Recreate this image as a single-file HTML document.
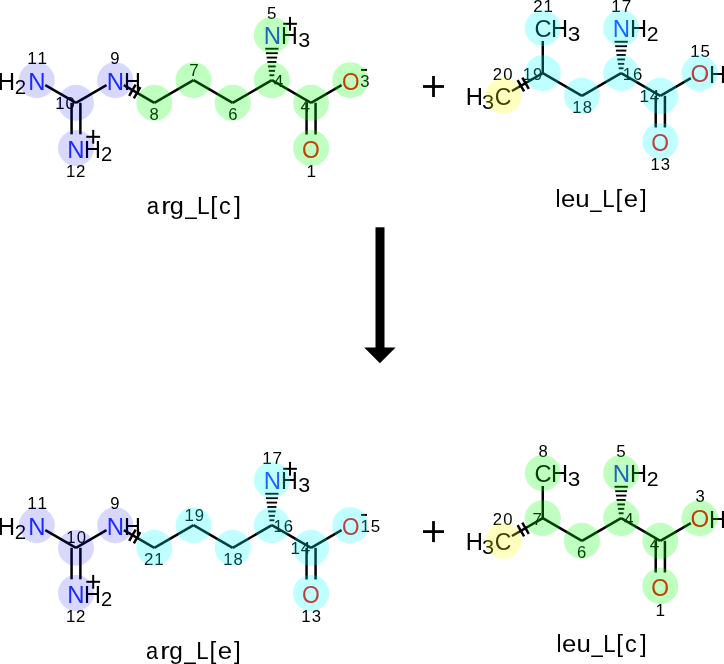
<!DOCTYPE html>
<html><head><meta charset="utf-8"><style>
html,body{margin:0;padding:0;background:#fff;}
svg{display:block;font-family:"Liberation Sans", sans-serif;will-change:transform;font-kerning:none;font-feature-settings:"kern" 0;}

</style></head><body>
<svg width="724" height="664" viewBox="0 0 724 664">
<rect width="724" height="664" fill="#fff"/>
<g class="t"><text transform="translate(-2.27 89.70) scale(0.988 1)" font-size="24.27" fill="#000">H</text>
<text transform="translate(14.77 93.60) scale(0.983 1)" font-size="20.77" fill="#000">2</text>
<text transform="translate(28.23 89.70) scale(0.988 1)" font-size="24.27" fill="#2133ff">N</text>
<text transform="translate(106.73 89.70) scale(0.988 1)" font-size="24.27" fill="#2133ff">N</text>
<text transform="translate(123.88 89.70) scale(0.966 1)" font-size="24.27" fill="#000">H</text>
<text transform="translate(67.13 158.00) scale(0.988 1)" font-size="24.27" fill="#2133ff">N</text>
<text transform="translate(84.08 158.00) scale(0.966 1)" font-size="24.27" fill="#000">H</text>
<text transform="translate(100.98 160.60) scale(0.986 1)" font-size="20.48" fill="#000">2</text>
<text x="263.83" y="43.70" font-size="23.98" fill="#2133ff">N</text>
<text transform="translate(281.09 43.70) scale(0.970 1)" font-size="23.98" fill="#000">H</text>
<text transform="translate(298.18 47.00) scale(1.073 1)" font-size="20.06" fill="#000">3</text>
<text transform="translate(342.03 89.57) scale(0.956 1)" font-size="23.59" fill="#ff0000">O</text>
<text transform="translate(302.12 157.57) scale(0.963 1)" font-size="23.73" fill="#ff0000">O</text>
<text x="27.17 37.42" y="63.80" font-size="17.15" fill="#000">11</text>
<text x="110.37" y="63.64" font-size="16.67" fill="#000">9</text>
<text x="55.18 65.51" y="108.64" font-size="16.67" fill="#000">10</text>
<text x="65.91 76.03" y="177.00" font-size="16.90" fill="#000">12</text>
<text x="149.47" y="119.74" font-size="16.67" fill="#000">8</text>
<text x="189.22" y="75.60" font-size="17.15" fill="#000">7</text>
<text x="228.16" y="119.74" font-size="16.67" fill="#000">6</text>
<text x="273.76" y="86.60" font-size="17.15" fill="#000">4</text>
<text x="267.11" y="18.53" font-size="16.91" fill="#000">5</text>
<text x="300.56" y="111.80" font-size="17.15" fill="#000">4</text>
<text x="360.18" y="86.64" font-size="16.67" fill="#000">3</text>
<text x="306.50" y="177.00" font-size="17.15" fill="#000">1</text>
<text transform="translate(-2.27 534.70) scale(0.988 1)" font-size="24.27" fill="#000">H</text>
<text transform="translate(14.77 538.60) scale(0.983 1)" font-size="20.77" fill="#000">2</text>
<text transform="translate(28.23 534.70) scale(0.988 1)" font-size="24.27" fill="#2133ff">N</text>
<text transform="translate(106.73 534.70) scale(0.988 1)" font-size="24.27" fill="#2133ff">N</text>
<text transform="translate(123.88 534.70) scale(0.966 1)" font-size="24.27" fill="#000">H</text>
<text transform="translate(67.13 603.00) scale(0.988 1)" font-size="24.27" fill="#2133ff">N</text>
<text transform="translate(84.08 603.00) scale(0.966 1)" font-size="24.27" fill="#000">H</text>
<text transform="translate(100.98 605.60) scale(0.986 1)" font-size="20.48" fill="#000">2</text>
<text x="263.83" y="488.70" font-size="23.98" fill="#2133ff">N</text>
<text transform="translate(281.09 488.70) scale(0.970 1)" font-size="23.98" fill="#000">H</text>
<text transform="translate(298.18 492.00) scale(1.073 1)" font-size="20.06" fill="#000">3</text>
<text transform="translate(342.03 534.57) scale(0.956 1)" font-size="23.59" fill="#ff0000">O</text>
<text transform="translate(302.12 602.57) scale(0.963 1)" font-size="23.73" fill="#ff0000">O</text>
<text x="27.17 37.42" y="508.80" font-size="17.15" fill="#000">11</text>
<text x="110.37" y="508.64" font-size="16.67" fill="#000">9</text>
<text x="66.36 76.68" y="543.44" font-size="16.67" fill="#000">10</text>
<text x="65.91 76.03" y="622.00" font-size="16.90" fill="#000">12</text>
<text x="143.97 154.34" y="565.00" font-size="16.90" fill="#000">21</text>
<text x="184.39 194.66" y="520.94" font-size="16.67" fill="#000">19</text>
<text x="223.27 233.60" y="564.69" font-size="16.67" fill="#000">18</text>
<text x="273.53 283.86" y="531.64" font-size="16.67" fill="#000">16</text>
<text x="262.22 272.52" y="463.70" font-size="17.15" fill="#000">17</text>
<text x="290.39 300.72" y="553.80" font-size="17.15" fill="#000">14</text>
<text x="360.46 370.73" y="531.63" font-size="16.91" fill="#000">15</text>
<text x="301.32 311.66" y="621.64" font-size="16.67" fill="#000">13</text>
<text transform="translate(465.85 104.70) scale(0.975 1)" font-size="24.42" fill="#000">H</text>
<text transform="translate(481.97 109.20) scale(1.068 1)" font-size="20.34" fill="#000">3</text>
<text transform="translate(494.63 104.76) scale(0.938 1)" font-size="24.58" fill="#000">C</text>
<text transform="translate(534.40 36.77) scale(0.992 1)" font-size="23.87" fill="#000">C</text>
<text transform="translate(551.06 36.90) scale(0.979 1)" font-size="24.13" fill="#000">H</text>
<text transform="translate(567.74 40.80) scale(1.125 1)" font-size="20.06" fill="#000">3</text>
<text transform="translate(612.63 36.90) scale(0.994 1)" font-size="24.13" fill="#2133ff">N</text>
<text transform="translate(630.06 36.90) scale(0.979 1)" font-size="24.13" fill="#000">H</text>
<text transform="translate(646.63 40.90) scale(1.040 1)" font-size="20.48" fill="#000">2</text>
<text transform="translate(690.46 82.37) scale(1.025 1)" font-size="23.45" fill="#ff0000">O</text>
<text transform="translate(709.06 82.60) scale(0.979 1)" font-size="24.13" fill="#000">H</text>
<text transform="translate(651.32 150.77) scale(0.975 1)" font-size="23.45" fill="#ff0000">O</text>
<text x="492.82 503.28" y="79.64" font-size="16.67" fill="#000">20</text>
<text x="522.63 532.91" y="79.64" font-size="16.67" fill="#000">19</text>
<text x="533.17 543.54" y="11.70" font-size="16.90" fill="#000">21</text>
<text x="572.32 582.65" y="112.54" font-size="16.67" fill="#000">18</text>
<text x="622.73 633.06" y="79.54" font-size="16.67" fill="#000">16</text>
<text x="611.37 621.67" y="11.70" font-size="17.15" fill="#000">17</text>
<text x="639.39 649.72" y="101.90" font-size="17.15" fill="#000">14</text>
<text x="690.31 700.57" y="56.63" font-size="16.91" fill="#000">15</text>
<text x="650.42 660.76" y="169.64" font-size="16.67" fill="#000">13</text>
<text transform="translate(465.85 549.70) scale(0.975 1)" font-size="24.42" fill="#000">H</text>
<text transform="translate(481.97 554.20) scale(1.068 1)" font-size="20.34" fill="#000">3</text>
<text transform="translate(494.63 549.76) scale(0.938 1)" font-size="24.58" fill="#000">C</text>
<text transform="translate(534.40 481.77) scale(0.992 1)" font-size="23.87" fill="#000">C</text>
<text transform="translate(551.06 481.90) scale(0.979 1)" font-size="24.13" fill="#000">H</text>
<text transform="translate(567.74 485.80) scale(1.125 1)" font-size="20.06" fill="#000">3</text>
<text transform="translate(612.63 481.90) scale(0.994 1)" font-size="24.13" fill="#2133ff">N</text>
<text transform="translate(630.06 481.90) scale(0.979 1)" font-size="24.13" fill="#000">H</text>
<text transform="translate(646.63 485.90) scale(1.040 1)" font-size="20.48" fill="#000">2</text>
<text transform="translate(690.46 527.37) scale(1.025 1)" font-size="23.45" fill="#ff0000">O</text>
<text transform="translate(709.06 527.60) scale(0.979 1)" font-size="24.13" fill="#000">H</text>
<text transform="translate(651.32 595.77) scale(0.975 1)" font-size="23.45" fill="#ff0000">O</text>
<text x="492.82 503.28" y="524.64" font-size="16.67" fill="#000">20</text>
<text x="532.45" y="524.80" font-size="17.15" fill="#000">7</text>
<text x="538.42" y="456.64" font-size="16.67" fill="#000">8</text>
<text x="577.11" y="557.74" font-size="16.67" fill="#000">6</text>
<text x="623.96" y="524.80" font-size="17.15" fill="#000">4</text>
<text x="616.31" y="456.63" font-size="16.91" fill="#000">5</text>
<text x="649.66" y="549.50" font-size="17.15" fill="#000">4</text>
<text x="695.41" y="501.74" font-size="16.67" fill="#000">3</text>
<text x="655.40" y="615.60" font-size="17.15" fill="#000">1</text>
<text transform="translate(146.86 213.90) scale(0.910 1)" font-size="24.4">a</text>
<text transform="translate(161.21 213.90) scale(1.164 1)" font-size="24.4">r</text>
<text transform="translate(169.84 213.90) scale(1.039 1)" font-size="24.4">g</text>
<text transform="translate(185.31 213.90) scale(0.844 1)" font-size="24.4">_</text>
<text transform="translate(197.04 213.90) scale(0.930 1)" font-size="24.4">L</text>
<text transform="translate(210.21 213.90) scale(1.031 1)" font-size="24.4">[</text>
<text transform="translate(219.00 213.90) scale(0.960 1)" font-size="24.4">c</text>
<text transform="translate(233.90 213.90) scale(1.031 1)" font-size="24.4">]</text>
<text transform="translate(555.47 206.80) scale(0.933 1)" font-size="24.4">l</text>
<text transform="translate(560.90 206.80) scale(1.057 1)" font-size="24.4">e</text>
<text transform="translate(575.32 206.80) scale(1.061 1)" font-size="24.4">u</text>
<text transform="translate(590.31 206.80) scale(0.830 1)" font-size="24.4">_</text>
<text transform="translate(602.28 206.80) scale(0.911 1)" font-size="24.4">L</text>
<text x="615.48" y="206.80" font-size="24.4">[</text>
<text transform="translate(623.80 206.80) scale(1.057 1)" font-size="24.4">e</text>
<text x="639.91" y="206.80" font-size="24.4">]</text>
<text transform="translate(145.97 658.80) scale(0.894 1)" font-size="24.4">a</text>
<text transform="translate(160.21 658.80) scale(1.164 1)" font-size="24.4">r</text>
<text x="169.16" y="658.80" font-size="24.4">g</text>
<text transform="translate(184.31 658.80) scale(0.844 1)" font-size="24.4">_</text>
<text transform="translate(196.28 658.80) scale(0.911 1)" font-size="24.4">L</text>
<text x="209.48" y="658.80" font-size="24.4">[</text>
<text transform="translate(217.80 658.80) scale(1.057 1)" font-size="24.4">e</text>
<text x="233.91" y="658.80" font-size="24.4">]</text>
<text transform="translate(556.57 651.80) scale(0.933 1)" font-size="24.4">l</text>
<text transform="translate(561.90 651.80) scale(1.057 1)" font-size="24.4">e</text>
<text transform="translate(576.42 651.80) scale(1.061 1)" font-size="24.4">u</text>
<text transform="translate(591.51 651.80) scale(0.830 1)" font-size="24.4">_</text>
<text transform="translate(603.18 651.80) scale(0.911 1)" font-size="24.4">L</text>
<text x="616.28" y="651.80" font-size="24.4">[</text>
<text transform="translate(625.00 651.80) scale(0.960 1)" font-size="24.4">c</text>
<text x="639.91" y="651.80" font-size="24.4">]</text></g>
<line x1="45.29" y1="85.10" x2="75.98" y2="102.80" stroke="#000" stroke-width="2.5" stroke-linecap="butt"/>
<line x1="75.98" y1="102.80" x2="106.50" y2="85.20" stroke="#000" stroke-width="2.5" stroke-linecap="butt"/>
<line x1="123.82" y1="85.20" x2="154.34" y2="102.80" stroke="#000" stroke-width="2.5" stroke-linecap="butt"/>
<line x1="154.34" y1="102.80" x2="193.52" y2="80.20" stroke="#000" stroke-width="2.5" stroke-linecap="butt"/>
<line x1="193.52" y1="80.20" x2="232.70" y2="102.80" stroke="#000" stroke-width="2.5" stroke-linecap="butt"/>
<line x1="232.70" y1="102.80" x2="271.88" y2="80.20" stroke="#000" stroke-width="2.5" stroke-linecap="butt"/>
<line x1="271.88" y1="80.20" x2="311.06" y2="102.80" stroke="#000" stroke-width="2.5" stroke-linecap="butt"/>
<line x1="311.06" y1="102.80" x2="341.58" y2="85.20" stroke="#000" stroke-width="2.5" stroke-linecap="butt"/>
<line x1="71.58" y1="102.80" x2="71.58" y2="134.30" stroke="#000" stroke-width="2.5" stroke-linecap="butt"/>
<line x1="80.38" y1="102.80" x2="80.38" y2="134.30" stroke="#000" stroke-width="2.5" stroke-linecap="butt"/>
<line x1="306.56" y1="102.80" x2="306.56" y2="134.50" stroke="#000" stroke-width="2.5" stroke-linecap="butt"/>
<line x1="315.56" y1="102.80" x2="315.56" y2="134.50" stroke="#000" stroke-width="2.5" stroke-linecap="butt"/>
<line x1="135.66" y1="84.52" x2="129.16" y2="95.78" stroke="#000" stroke-width="2.5" stroke-linecap="butt"/>
<line x1="140.34" y1="87.22" x2="133.84" y2="98.48" stroke="#000" stroke-width="2.5" stroke-linecap="butt"/>
<line x1="265.23" y1="48.75" x2="278.53" y2="48.75" stroke="#000" stroke-width="1.9" stroke-linecap="butt"/>
<line x1="265.94" y1="53.17" x2="277.82" y2="53.17" stroke="#000" stroke-width="1.9" stroke-linecap="butt"/>
<line x1="266.64" y1="57.59" x2="277.12" y2="57.59" stroke="#000" stroke-width="1.9" stroke-linecap="butt"/>
<line x1="267.35" y1="62.01" x2="276.41" y2="62.01" stroke="#000" stroke-width="1.9" stroke-linecap="butt"/>
<line x1="268.06" y1="66.43" x2="275.70" y2="66.43" stroke="#000" stroke-width="1.9" stroke-linecap="butt"/>
<line x1="268.77" y1="70.85" x2="274.99" y2="70.85" stroke="#000" stroke-width="1.9" stroke-linecap="butt"/>
<line x1="269.47" y1="75.27" x2="274.29" y2="75.27" stroke="#000" stroke-width="1.9" stroke-linecap="butt"/>
<rect x="86.30" y="135.80" width="13.80" height="2.00" fill="#000"/>
<rect x="92.20" y="129.90" width="2.00" height="13.80" fill="#000"/>
<rect x="283.10" y="22.80" width="13.80" height="2.00" fill="#000"/>
<rect x="289.00" y="16.90" width="2.00" height="13.80" fill="#000"/>
<rect x="361.10" y="68.90" width="5.90" height="2.00" fill="#000"/>
<line x1="45.29" y1="530.10" x2="75.98" y2="547.80" stroke="#000" stroke-width="2.5" stroke-linecap="butt"/>
<line x1="75.98" y1="547.80" x2="106.50" y2="530.20" stroke="#000" stroke-width="2.5" stroke-linecap="butt"/>
<line x1="123.82" y1="530.20" x2="154.34" y2="547.80" stroke="#000" stroke-width="2.5" stroke-linecap="butt"/>
<line x1="154.34" y1="547.80" x2="193.52" y2="525.20" stroke="#000" stroke-width="2.5" stroke-linecap="butt"/>
<line x1="193.52" y1="525.20" x2="232.70" y2="547.80" stroke="#000" stroke-width="2.5" stroke-linecap="butt"/>
<line x1="232.70" y1="547.80" x2="271.88" y2="525.20" stroke="#000" stroke-width="2.5" stroke-linecap="butt"/>
<line x1="271.88" y1="525.20" x2="311.06" y2="547.80" stroke="#000" stroke-width="2.5" stroke-linecap="butt"/>
<line x1="311.06" y1="547.80" x2="341.58" y2="530.20" stroke="#000" stroke-width="2.5" stroke-linecap="butt"/>
<line x1="71.58" y1="547.80" x2="71.58" y2="579.30" stroke="#000" stroke-width="2.5" stroke-linecap="butt"/>
<line x1="80.38" y1="547.80" x2="80.38" y2="579.30" stroke="#000" stroke-width="2.5" stroke-linecap="butt"/>
<line x1="306.56" y1="547.80" x2="306.56" y2="579.50" stroke="#000" stroke-width="2.5" stroke-linecap="butt"/>
<line x1="315.56" y1="547.80" x2="315.56" y2="579.50" stroke="#000" stroke-width="2.5" stroke-linecap="butt"/>
<line x1="135.66" y1="529.52" x2="129.16" y2="540.78" stroke="#000" stroke-width="2.5" stroke-linecap="butt"/>
<line x1="140.34" y1="532.22" x2="133.84" y2="543.48" stroke="#000" stroke-width="2.5" stroke-linecap="butt"/>
<line x1="265.23" y1="493.75" x2="278.53" y2="493.75" stroke="#000" stroke-width="1.9" stroke-linecap="butt"/>
<line x1="265.94" y1="498.17" x2="277.82" y2="498.17" stroke="#000" stroke-width="1.9" stroke-linecap="butt"/>
<line x1="266.64" y1="502.59" x2="277.12" y2="502.59" stroke="#000" stroke-width="1.9" stroke-linecap="butt"/>
<line x1="267.35" y1="507.01" x2="276.41" y2="507.01" stroke="#000" stroke-width="1.9" stroke-linecap="butt"/>
<line x1="268.06" y1="511.43" x2="275.70" y2="511.43" stroke="#000" stroke-width="1.9" stroke-linecap="butt"/>
<line x1="268.77" y1="515.85" x2="274.99" y2="515.85" stroke="#000" stroke-width="1.9" stroke-linecap="butt"/>
<line x1="269.47" y1="520.27" x2="274.29" y2="520.27" stroke="#000" stroke-width="1.9" stroke-linecap="butt"/>
<rect x="86.30" y="580.80" width="13.80" height="2.00" fill="#000"/>
<rect x="92.20" y="574.90" width="2.00" height="13.80" fill="#000"/>
<rect x="283.10" y="467.80" width="13.80" height="2.00" fill="#000"/>
<rect x="289.00" y="461.90" width="2.00" height="13.80" fill="#000"/>
<rect x="361.10" y="513.90" width="5.90" height="2.00" fill="#000"/>
<line x1="511.92" y1="91.00" x2="542.78" y2="73.20" stroke="#000" stroke-width="2.5" stroke-linecap="butt"/>
<line x1="542.78" y1="73.20" x2="581.96" y2="95.80" stroke="#000" stroke-width="2.5" stroke-linecap="butt"/>
<line x1="581.96" y1="95.80" x2="621.14" y2="73.20" stroke="#000" stroke-width="2.5" stroke-linecap="butt"/>
<line x1="621.14" y1="73.20" x2="660.32" y2="95.80" stroke="#000" stroke-width="2.5" stroke-linecap="butt"/>
<line x1="542.78" y1="73.20" x2="542.78" y2="41.00" stroke="#000" stroke-width="2.5" stroke-linecap="butt"/>
<line x1="660.32" y1="95.80" x2="690.84" y2="78.20" stroke="#000" stroke-width="2.5" stroke-linecap="butt"/>
<line x1="655.72" y1="95.80" x2="655.72" y2="127.50" stroke="#000" stroke-width="2.5" stroke-linecap="butt"/>
<line x1="664.92" y1="95.80" x2="664.92" y2="127.50" stroke="#000" stroke-width="2.5" stroke-linecap="butt"/>
<line x1="517.60" y1="80.22" x2="524.10" y2="91.48" stroke="#000" stroke-width="2.5" stroke-linecap="butt"/>
<line x1="522.28" y1="77.52" x2="528.78" y2="88.78" stroke="#000" stroke-width="2.5" stroke-linecap="butt"/>
<line x1="614.49" y1="41.75" x2="627.79" y2="41.75" stroke="#000" stroke-width="1.9" stroke-linecap="butt"/>
<line x1="615.20" y1="46.17" x2="627.08" y2="46.17" stroke="#000" stroke-width="1.9" stroke-linecap="butt"/>
<line x1="615.90" y1="50.59" x2="626.38" y2="50.59" stroke="#000" stroke-width="1.9" stroke-linecap="butt"/>
<line x1="616.61" y1="55.01" x2="625.67" y2="55.01" stroke="#000" stroke-width="1.9" stroke-linecap="butt"/>
<line x1="617.32" y1="59.43" x2="624.96" y2="59.43" stroke="#000" stroke-width="1.9" stroke-linecap="butt"/>
<line x1="618.03" y1="63.85" x2="624.25" y2="63.85" stroke="#000" stroke-width="1.9" stroke-linecap="butt"/>
<line x1="618.73" y1="68.27" x2="623.55" y2="68.27" stroke="#000" stroke-width="1.9" stroke-linecap="butt"/>
<line x1="511.92" y1="536.00" x2="542.78" y2="518.20" stroke="#000" stroke-width="2.5" stroke-linecap="butt"/>
<line x1="542.78" y1="518.20" x2="581.96" y2="540.80" stroke="#000" stroke-width="2.5" stroke-linecap="butt"/>
<line x1="581.96" y1="540.80" x2="621.14" y2="518.20" stroke="#000" stroke-width="2.5" stroke-linecap="butt"/>
<line x1="621.14" y1="518.20" x2="660.32" y2="540.80" stroke="#000" stroke-width="2.5" stroke-linecap="butt"/>
<line x1="542.78" y1="518.20" x2="542.78" y2="486.00" stroke="#000" stroke-width="2.5" stroke-linecap="butt"/>
<line x1="660.32" y1="540.80" x2="690.84" y2="523.20" stroke="#000" stroke-width="2.5" stroke-linecap="butt"/>
<line x1="655.72" y1="540.80" x2="655.72" y2="572.50" stroke="#000" stroke-width="2.5" stroke-linecap="butt"/>
<line x1="664.92" y1="540.80" x2="664.92" y2="572.50" stroke="#000" stroke-width="2.5" stroke-linecap="butt"/>
<line x1="517.60" y1="525.22" x2="524.10" y2="536.48" stroke="#000" stroke-width="2.5" stroke-linecap="butt"/>
<line x1="522.28" y1="522.52" x2="528.78" y2="533.78" stroke="#000" stroke-width="2.5" stroke-linecap="butt"/>
<line x1="614.49" y1="486.75" x2="627.79" y2="486.75" stroke="#000" stroke-width="1.9" stroke-linecap="butt"/>
<line x1="615.20" y1="491.17" x2="627.08" y2="491.17" stroke="#000" stroke-width="1.9" stroke-linecap="butt"/>
<line x1="615.90" y1="495.59" x2="626.38" y2="495.59" stroke="#000" stroke-width="1.9" stroke-linecap="butt"/>
<line x1="616.61" y1="500.01" x2="625.67" y2="500.01" stroke="#000" stroke-width="1.9" stroke-linecap="butt"/>
<line x1="617.32" y1="504.43" x2="624.96" y2="504.43" stroke="#000" stroke-width="1.9" stroke-linecap="butt"/>
<line x1="618.03" y1="508.85" x2="624.25" y2="508.85" stroke="#000" stroke-width="1.9" stroke-linecap="butt"/>
<line x1="618.73" y1="513.27" x2="623.55" y2="513.27" stroke="#000" stroke-width="1.9" stroke-linecap="butt"/>
<rect x="423.00" y="85.10" width="21.00" height="2.80" fill="#000"/>
<rect x="432.10" y="76.00" width="2.80" height="21.00" fill="#000"/>
<rect x="423.00" y="530.20" width="21.00" height="2.80" fill="#000"/>
<rect x="432.10" y="521.10" width="2.80" height="21.00" fill="#000"/>
<rect x="375.5" y="227.3" width="9" height="121" fill="#000"/>
<polygon points="364.2,347.5 395.6,347.5 379.9,363.2" fill="#000"/>
<circle cx="36.80" cy="80.20" r="18.0" fill="rgba(0,0,255,0.153)"/>
<circle cx="75.98" cy="102.80" r="18.0" fill="rgba(0,0,255,0.153)"/>
<circle cx="115.16" cy="80.20" r="18.0" fill="rgba(0,0,255,0.153)"/>
<circle cx="75.98" cy="148.00" r="18.0" fill="rgba(0,0,255,0.153)"/>
<circle cx="154.34" cy="102.80" r="18.0" fill="rgba(0,255,0,0.25)"/>
<circle cx="193.52" cy="80.20" r="18.0" fill="rgba(0,255,0,0.25)"/>
<circle cx="232.70" cy="102.80" r="18.0" fill="rgba(0,255,0,0.25)"/>
<circle cx="271.88" cy="80.20" r="18.0" fill="rgba(0,255,0,0.25)"/>
<circle cx="271.88" cy="35.00" r="18.0" fill="rgba(0,255,0,0.25)"/>
<circle cx="311.06" cy="102.80" r="18.0" fill="rgba(0,255,0,0.25)"/>
<circle cx="350.24" cy="80.20" r="18.0" fill="rgba(0,255,0,0.25)"/>
<circle cx="311.06" cy="148.00" r="18.0" fill="rgba(0,255,0,0.25)"/>
<circle cx="36.80" cy="525.20" r="18.0" fill="rgba(0,0,255,0.153)"/>
<circle cx="75.98" cy="547.80" r="18.0" fill="rgba(0,0,255,0.153)"/>
<circle cx="115.16" cy="525.20" r="18.0" fill="rgba(0,0,255,0.153)"/>
<circle cx="75.98" cy="593.00" r="18.0" fill="rgba(0,0,255,0.153)"/>
<circle cx="154.34" cy="547.80" r="18.0" fill="rgba(0,255,255,0.25)"/>
<circle cx="193.52" cy="525.20" r="18.0" fill="rgba(0,255,255,0.25)"/>
<circle cx="232.70" cy="547.80" r="18.0" fill="rgba(0,255,255,0.25)"/>
<circle cx="271.88" cy="525.20" r="18.0" fill="rgba(0,255,255,0.25)"/>
<circle cx="271.88" cy="480.00" r="18.0" fill="rgba(0,255,255,0.25)"/>
<circle cx="311.06" cy="547.80" r="18.0" fill="rgba(0,255,255,0.25)"/>
<circle cx="350.24" cy="525.20" r="18.0" fill="rgba(0,255,255,0.25)"/>
<circle cx="311.06" cy="593.00" r="18.0" fill="rgba(0,255,255,0.25)"/>
<circle cx="503.60" cy="95.80" r="18.0" fill="rgba(255,255,0,0.25)"/>
<circle cx="542.78" cy="73.20" r="18.0" fill="rgba(0,255,255,0.25)"/>
<circle cx="542.78" cy="28.00" r="18.0" fill="rgba(0,255,255,0.25)"/>
<circle cx="581.96" cy="95.80" r="18.0" fill="rgba(0,255,255,0.25)"/>
<circle cx="621.14" cy="73.20" r="18.0" fill="rgba(0,255,255,0.25)"/>
<circle cx="621.14" cy="28.00" r="18.0" fill="rgba(0,255,255,0.25)"/>
<circle cx="660.32" cy="95.80" r="18.0" fill="rgba(0,255,255,0.25)"/>
<circle cx="699.50" cy="73.20" r="18.0" fill="rgba(0,255,255,0.25)"/>
<circle cx="660.32" cy="141.00" r="18.0" fill="rgba(0,255,255,0.25)"/>
<circle cx="503.60" cy="540.80" r="18.0" fill="rgba(255,255,0,0.25)"/>
<circle cx="542.78" cy="518.20" r="18.0" fill="rgba(0,255,0,0.25)"/>
<circle cx="542.78" cy="473.00" r="18.0" fill="rgba(0,255,0,0.25)"/>
<circle cx="581.96" cy="540.80" r="18.0" fill="rgba(0,255,0,0.25)"/>
<circle cx="621.14" cy="518.20" r="18.0" fill="rgba(0,255,0,0.25)"/>
<circle cx="621.14" cy="473.00" r="18.0" fill="rgba(0,255,0,0.25)"/>
<circle cx="660.32" cy="540.80" r="18.0" fill="rgba(0,255,0,0.25)"/>
<circle cx="699.50" cy="518.20" r="18.0" fill="rgba(0,255,0,0.25)"/>
<circle cx="660.32" cy="586.00" r="18.0" fill="rgba(0,255,0,0.25)"/>
</svg>
</body></html>
